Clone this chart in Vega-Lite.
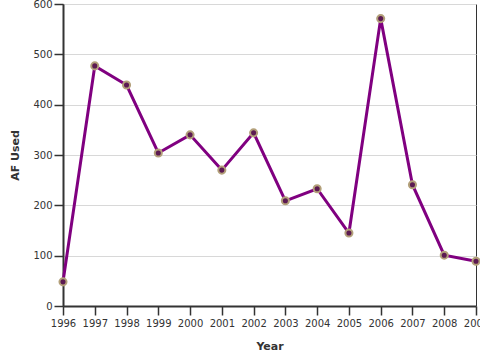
{
  "$schema": "https://vega.github.io/schema/vega-lite/v6.json",
  "width": 413,
  "height": 302,
  "autosize": {"type": "none"},
  "padding": {"left": 63, "top": 4, "right": 4, "bottom": 54},
  "background": "white",
  "config": {
    "view": {"stroke": "#333333", "strokeWidth": 1},
    "font": "DejaVu Sans",
    "axis": {
      "labelFont": "DejaVu Sans",
      "titleFont": "DejaVu Sans",
      "labelFontSize": 10,
      "titleFontSize": 11,
      "titleFontWeight": "bold",
      "labelColor": "#333333",
      "titleColor": "#333333",
      "domainColor": "#333333",
      "domainWidth": 2,
      "tickColor": "#333333",
      "tickWidth": 1.5,
      "tickSize": 9,
      "gridColor": "#d8d8d8",
      "gridWidth": 1
    }
  },
  "data": {
    "values": [
      {"Year": 1996, "AF": 48},
      {"Year": 1997, "AF": 477},
      {"Year": 1998, "AF": 439},
      {"Year": 1999, "AF": 304},
      {"Year": 2000, "AF": 340},
      {"Year": 2001, "AF": 270},
      {"Year": 2002, "AF": 344},
      {"Year": 2003, "AF": 209},
      {"Year": 2004, "AF": 233},
      {"Year": 2005, "AF": 145},
      {"Year": 2006, "AF": 571},
      {"Year": 2007, "AF": 241},
      {"Year": 2008, "AF": 101},
      {"Year": 2009, "AF": 89}
    ]
  },
  "encoding": {
    "x": {
      "field": "Year",
      "type": "quantitative",
      "scale": {"domain": [1996, 2009], "nice": false, "zero": false},
      "axis": {
        "title": "Year",
        "format": "d",
        "values": [1996, 1997, 1998, 1999, 2000, 2001, 2002, 2003, 2004, 2005, 2006, 2007, 2008, 2009],
        "grid": false,
        "labelPadding": 3,
        "labelOverlap": false,
        "labelFlush": false,
        "titlePadding": 12
      }
    },
    "y": {
      "field": "AF",
      "type": "quantitative",
      "scale": {"domain": [0, 600], "nice": false},
      "axis": {
        "title": "AF Used",
        "values": [0, 100, 200, 300, 400, 500, 600],
        "grid": true,
        "labelPadding": 2,
        "titlePadding": 12
      }
    }
  },
  "layer": [
    {
      "mark": {"type": "line", "color": "#800080", "strokeWidth": 3}
    },
    {
      "mark": {"type": "point", "filled": true, "fill": "#5c1a52", "stroke": "#b3a07a", "strokeWidth": 2, "size": 50, "opacity": 1}
    }
  ]
}
